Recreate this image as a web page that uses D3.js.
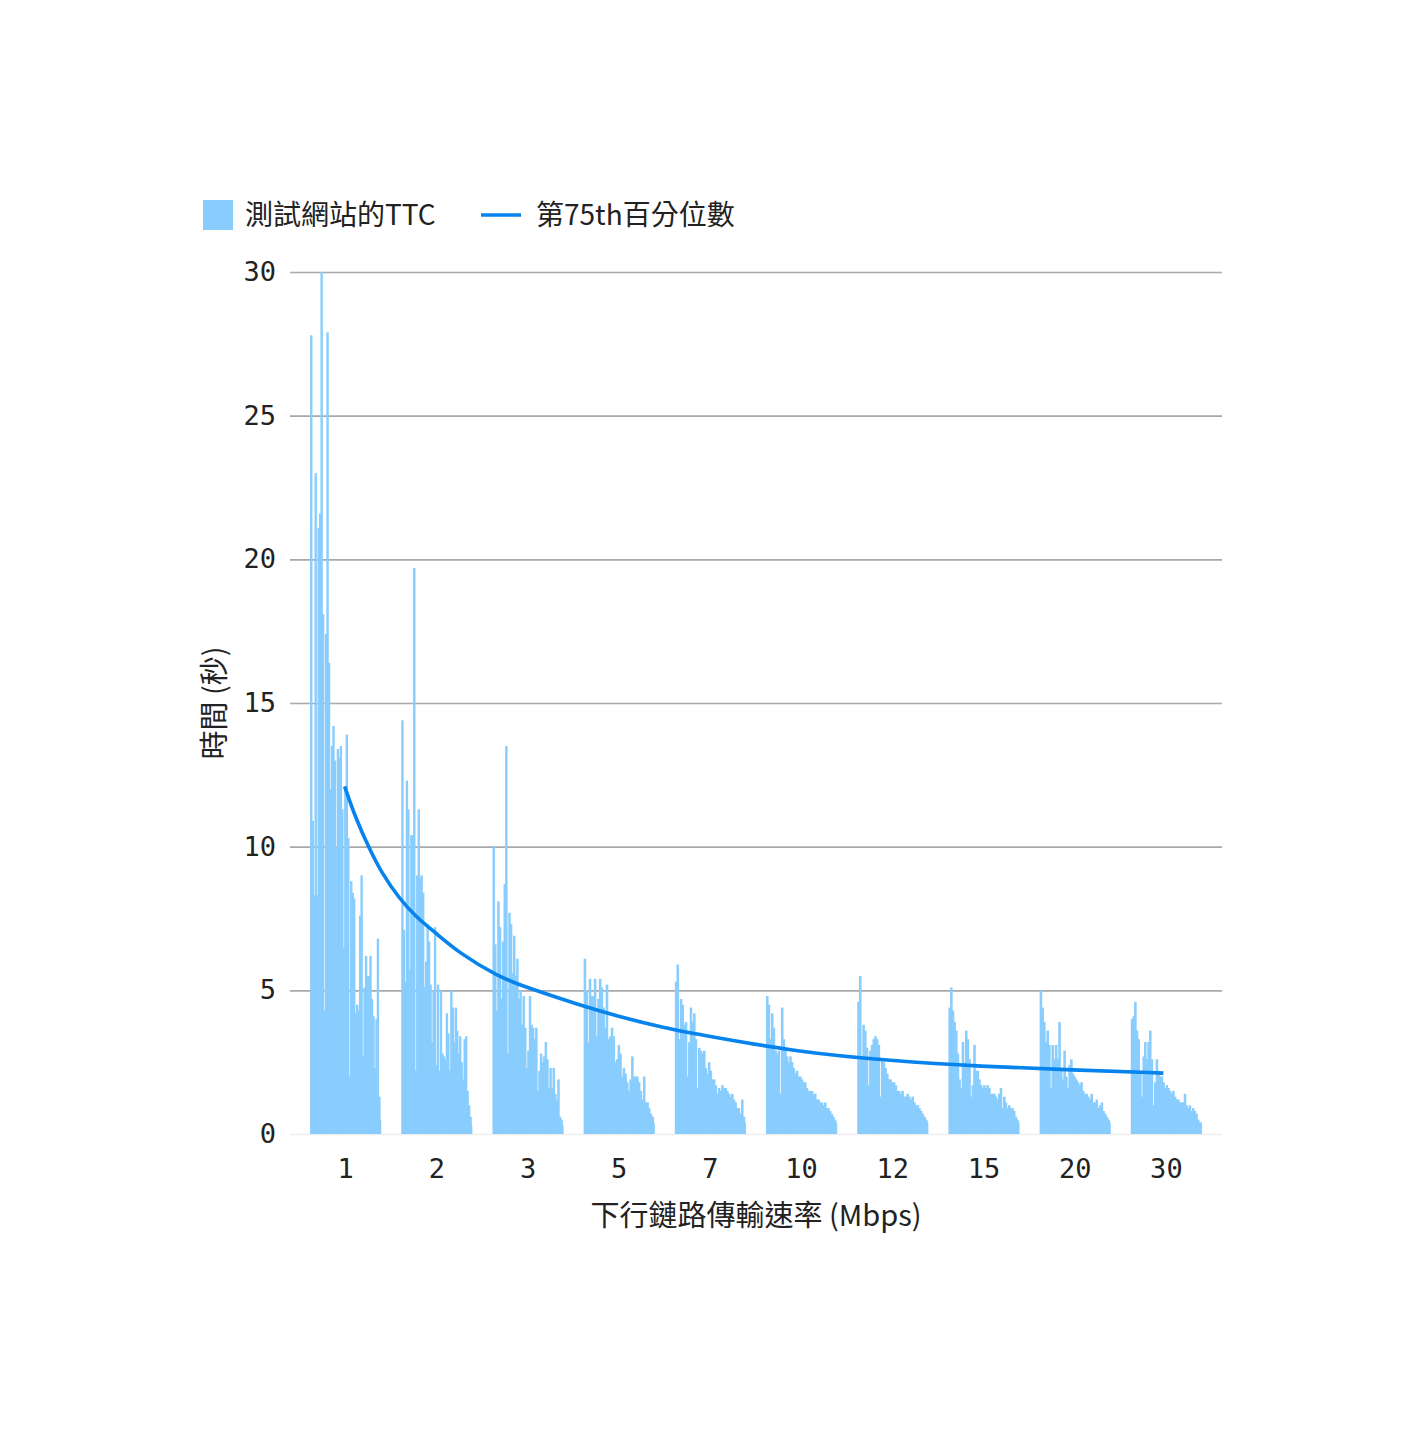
<!DOCTYPE html>
<html>
<head>
<meta charset="utf-8">
<script src="https://cdn.jsdelivr.net/npm/d3@7"></script>
<style>
  body { margin: 0; background: #fff; }
  text { fill: #222; }
</style>
</head>
<body>
<script>
// Categories (downlink rate, Mbps) and tick labels
const rates = ["1", "2", "3", "5", "7", "10", "12", "15", "20", "30"];
const yTicks = [0, 5, 10, 15, 20, 25, 30];

// 75th percentile curve.
// position is in category steps (0 = "1" Mbps, 9 = "30" Mbps), value in seconds
const p75Pos = [0, 0.12, 0.27, 0.41, 0.6, 0.78, 1, 1.26, 1.69, 2, 2.57, 3, 3.5, 4, 5, 6, 7, 8, 9];
const p75Val = [12.1, 11.0, 9.94, 9.07, 8.2, 7.57, 7.0, 6.3, 5.47, 5.1, 4.5, 4.1, 3.7, 3.4, 2.85, 2.55, 2.35, 2.23, 2.12];

// TTC of the tested sites, per rate group (seconds)
const ttc1 = [27.8,10.9,8.3,23.0,8.3,21.1,21.6,30.0,18.1,4.3,17.4,27.9,16.4,12.0,13.5,14.2,13.0,10.0,13.4,13.1,13.5,11.3,6.5,12.1,13.9,10.3,2.0,8.8,8.4,8.2,4.2,4.5,4.3,7.6,9.0,2.7,5.1,6.2,5.5,5.5,6.2,4.7,4.1,2.3,4.0,6.8,1.3,0.5];
const ttc2 = [14.4,7.1,5.3,12.3,11.3,5.7,10.4,10.4,19.7,2.2,9.0,11.3,8.9,9.0,8.4,5.1,6.0,7.3,6.7,5.2,3.2,5.0,7.2,2.4,5.2,2.2,5.0,2.8,2.7,2.6,4.2,3.5,2.2,5.0,4.4,3.2,4.4,3.6,2.8,3.4,2.5,1.9,3.3,3.4,1.5,1.0,0.6,0.3];
const ttc3 = [10.0,6.6,4.3,8.1,7.2,4.7,6.7,8.7,13.5,2.8,7.7,7.3,5.6,6.9,5.5,6.1,4.7,5.0,3.8,4.8,3.7,2.3,2.9,4.8,3.8,3.7,3.3,3.7,1.5,2.2,2.8,2.5,2.7,3.2,2.6,1.6,2.3,1.6,2.3,1.4,1.2,1.9,0.6,0.5,0.3];
const ttc5 = [6.1,5.0,3.2,5.4,4.8,4.8,5.4,3.4,4.7,5.4,5.1,4.4,3.7,5.2,3.3,3.4,3.7,3.4,2.5,2.6,3.1,2.8,2.0,2.3,2.1,1.8,1.5,1.9,2.7,2.0,2.0,2.0,1.8,1.5,1.2,2.0,1.1,1.1,0.9,0.7,0.6,0.4];
const ttc7 = [5.3,5.9,3.3,4.7,4.5,3.8,3.9,2.0,3.2,4.4,3.9,4.2,3.3,1.6,3.0,2.9,2.8,2.9,2.3,2.1,2.5,2.2,1.9,1.9,1.7,1.4,1.6,1.5,1.7,1.6,1.6,1.5,1.4,1.3,1.4,1.2,1.1,0.9,0.9,0.7,1.2,0.6,0.4];
const ttc10 = [4.8,4.5,3.3,4.2,3.7,2.9,2.8,2.9,1.4,4.4,3.3,2.9,2.7,2.5,2.7,2.5,2.3,2.1,2.2,2.0,2.0,1.9,1.8,1.8,1.6,1.5,1.5,1.5,1.4,1.4,1.2,1.2,1.1,1.1,1.0,1.1,0.9,0.9,0.8,0.7,0.6,0.5,0.4];
const ttc12 = [4.6,5.5,2.7,3.8,3.6,3.0,1.7,2.9,3.1,3.3,3.4,3.3,3.1,1.3,2.6,2.5,2.3,2.1,1.9,1.9,1.8,1.8,1.7,1.5,1.5,1.4,1.5,1.3,1.3,1.4,1.3,1.2,1.3,1.1,1.0,1.0,0.9,0.8,0.7,0.6,0.5,0.4];
const ttc15 = [4.4,5.1,4.3,3.9,3.6,2.8,1.9,1.6,3.2,2.5,3.6,3.3,2.6,1.3,1.7,3.1,2.2,2.2,1.9,1.7,1.6,1.7,1.6,1.7,1.6,1.4,1.4,1.4,1.3,1.2,1.4,1.6,0.9,1.3,1.1,0.9,1.0,0.9,0.9,0.8,0.6,0.5,0.4];
const ttc20 = [5.0,4.4,3.9,3.2,3.6,3.1,1.6,3.1,2.6,3.1,2.6,3.9,2.3,1.9,2.9,2.0,1.6,2.4,2.6,2.1,2.0,1.9,1.8,1.7,1.8,1.5,1.4,1.4,1.3,1.2,1.4,1.1,1.1,1.2,0.9,1.0,1.1,0.8,0.7,0.6,0.5,0.4];
const ttc30 = [4.0,4.1,4.6,3.6,3.3,2.1,1.3,2.7,3.2,2.6,3.2,3.6,2.6,1.0,1.8,2.6,2.2,2.0,2.0,1.8,1.6,1.7,1.6,1.5,1.4,1.5,1.3,1.2,1.2,1.1,1.1,1.1,1.4,1.0,0.9,1.0,0.8,0.9,0.8,0.7,0.5,0.4,0.4];

const ttcGroups = [ttc1, ttc2, ttc3, ttc5, ttc7, ttc10, ttc12, ttc15, ttc20, ttc30];

const width = 1423, height = 1432;
const plotLeft = 290, plotRight = 1222, plotTop = 272, plotBottom = 1134;

const barColor = "#89cdfe";
const lineColor = "#0683ec";
const cjk = "'Noto Sans CJK TC', 'Noto Sans', sans-serif";
const mono = "'DejaVu Sans Mono', monospace";

const svg = d3.select("body").append("svg")
  .attr("width", width)
  .attr("height", height);

// Scales
const x = d3.scaleBand()
  .domain(rates)
  .range([plotLeft, plotRight])
  .paddingInner(0.22)
  .paddingOuter(0.22);

const y = d3.scaleLinear()
  .domain([0, 30])
  .range([plotBottom, plotTop]);

// continuous position between category centres, for the percentile curve
const xPos = d3.scaleLinear()
  .domain([0, rates.length - 1])
  .range([x(rates[0]) + x.bandwidth() / 2 - 1, x(rates[rates.length - 1]) + x.bandwidth() / 2 - 3]);

// Y axis with gridlines
const yAxis = svg.append("g")
  .attr("transform", `translate(${plotLeft},0)`)
  .call(d3.axisLeft(y).tickValues(yTicks).tickSize(-(plotRight - plotLeft)).tickPadding(14));

yAxis.select(".domain").remove();
yAxis.selectAll(".tick line")
  .attr("stroke", d => d === 0 ? "#eeeeee" : "#a9a9a9")
  .attr("stroke-width", 1.6);
yAxis.selectAll(".tick text")
  .style("font-family", mono)
  .style("font-size", "27px")
  .attr("fill", "#222");

// X axis
const xAxis = svg.append("g")
  .attr("transform", `translate(0,${plotBottom})`)
  .call(d3.axisBottom(x).tickSize(0).tickPadding(25));

xAxis.select(".domain").remove();
xAxis.selectAll(".tick text")
  .style("font-family", mono)
  .style("font-size", "27px")
  .attr("fill", "#222");

// Bars, one small band scale per rate group
const groups = svg.append("g")
  .selectAll("g")
  .data(ttcGroups)
  .enter()
  .append("g")
  .attr("transform", (d, i) => `translate(${x(rates[i])},0)`);

groups.each(function (values) {
  const inner = d3.scaleBand()
    .domain(d3.range(values.length))
    .range([0, x.bandwidth()])
    .padding(0);

  d3.select(this)
    .selectAll("rect")
    .data(values)
    .enter()
    .append("rect")
    .attr("x", (d, j) => inner(j))
    .attr("width", (d, j) => j < values.length - 1 ? inner.bandwidth() + 0.9 : inner.bandwidth())
    .attr("y", d => y(d))
    .attr("height", d => y(0) - y(d))
    .attr("fill", barColor);
});

// 75th percentile line
const line = d3.line()
  .x((d, i) => xPos(p75Pos[i]))
  .y(d => y(d))
  .curve(d3.curveBasis);

svg.append("path")
  .datum(p75Val)
  .attr("d", line)
  .attr("fill", "none")
  .attr("stroke", lineColor)
  .attr("stroke-width", 3.6);

// Axis titles
svg.append("text")
  .attr("x", (plotLeft + plotRight) / 2)
  .attr("y", 1226)
  .attr("text-anchor", "middle")
  .style("font-family", cjk)
  .style("font-size", "29px")
  .text("下行鏈路傳輸速率 (Mbps)");

svg.append("text")
  .attr("transform", "translate(225,703) rotate(-90)")
  .attr("text-anchor", "middle")
  .style("font-family", cjk)
  .style("font-size", "29px")
  .text("時間 (秒)");

// Legend
const legend = svg.append("g");

legend.append("rect")
  .attr("x", 203)
  .attr("y", 200)
  .attr("width", 30)
  .attr("height", 30)
  .attr("fill", barColor);

legend.append("text")
  .attr("x", 245)
  .attr("y", 225)
  .style("font-family", cjk)
  .style("font-size", "28px")
  .text("測試網站的TTC");

legend.append("line")
  .attr("x1", 481)
  .attr("x2", 521)
  .attr("y1", 215)
  .attr("y2", 215)
  .attr("stroke", lineColor)
  .attr("stroke-width", 3.5);

legend.append("text")
  .attr("x", 536)
  .attr("y", 225)
  .style("font-family", cjk)
  .style("font-size", "28px")
  .text("第75th百分位數");
</script>
</body>
</html>
